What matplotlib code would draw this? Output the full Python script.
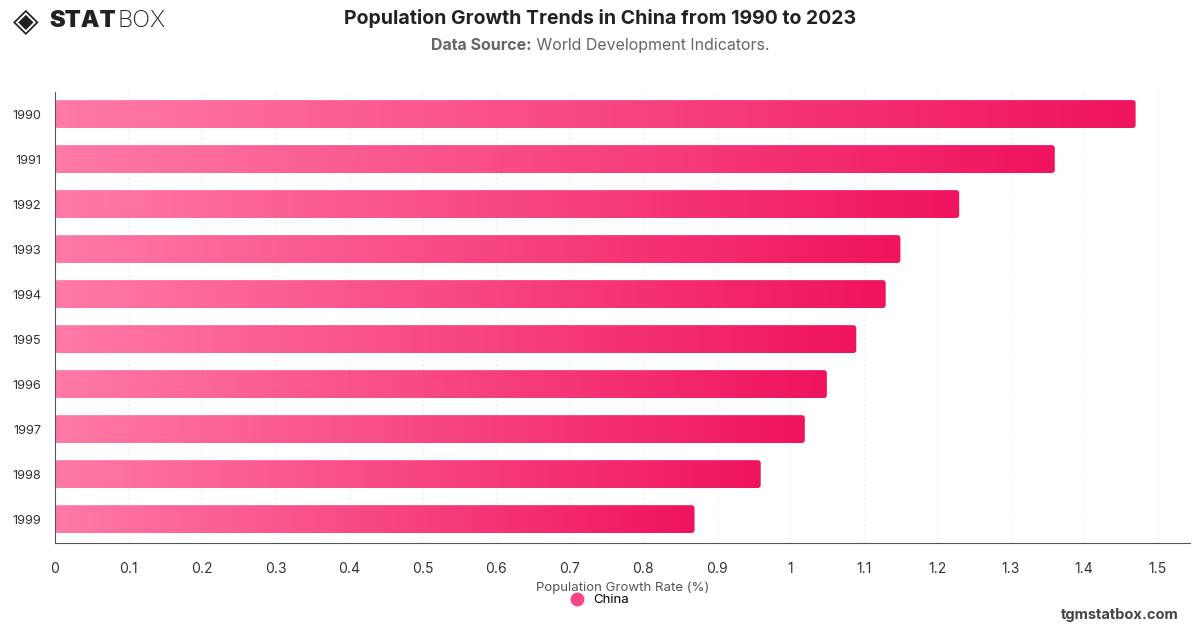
import numpy as np
import matplotlib
matplotlib.use("Agg")
import matplotlib.pyplot as plt
from matplotlib.colors import LinearSegmentedColormap
from matplotlib.patches import FancyBboxPatch
from matplotlib.lines import Line2D

# Datos
years = ["1990", "1991", "1992", "1993", "1994", "1995", "1996", "1997", "1998", "1999"]
growth = [1.47, 1.36, 1.23, 1.15, 1.13, 1.09, 1.05, 1.02, 0.96, 0.87]
x_ticks = [0, 0.1, 0.2, 0.3, 0.4, 0.5, 0.6, 0.7, 0.8, 0.9, 1.0, 1.1, 1.2, 1.3, 1.4, 1.5]
x_tick_labels = ["0", "0.1", "0.2", "0.3", "0.4", "0.5", "0.6", "0.7", "0.8", "0.9",
                 "1", "1.1", "1.2", "1.3", "1.4", "1.5"]

plt.rcParams['font.family'] = ['Inter', 'DejaVu Sans']

fig = plt.figure(figsize=(12, 6.28), dpi=100)
ax = fig.add_axes([0.0458, 0.1354, 0.9459, 0.7181])

cmap = LinearSegmentedColormap.from_list("rosa", ["#ff7aa6", "#f0135f"])
grad = np.linspace(0, 1, 256).reshape(1, -1)

bar_h = 0.62
for i, v in enumerate(growth):
    im = ax.imshow(grad, cmap=cmap, aspect='auto',
                   extent=(0, v, i + bar_h / 2, i - bar_h / 2), zorder=2)
    clip = FancyBboxPatch((0, i - bar_h / 2), v, bar_h,
                          boxstyle="round,pad=0,rounding_size=0.004",
                          mutation_aspect=16, transform=ax.transData,
                          facecolor='none', edgecolor='none')
    ax.add_patch(clip)
    im.set_clip_path(clip)

ax.set_xlim(0, 1.544)
ax.set_ylim(len(years) - 0.47, -0.49)

ax.set_yticks(range(len(years)))
ax.set_yticklabels(years)
ax.set_xticks(x_ticks)
ax.set_xticklabels(x_tick_labels)
ax.tick_params(axis='both', length=0, labelsize=10, colors='#333333')
ax.tick_params(axis='x', pad=14)
ax.tick_params(axis='y', pad=10, labelsize=9.2)

ax.grid(axis='x', linestyle=(0, (1, 3)), color='#e2e2e2', linewidth=0.8, zorder=0)
ax.set_axisbelow(True)
for s in ['top', 'right']:
    ax.spines[s].set_visible(False)
ax.spines['left'].set_color('#555555')
ax.spines['bottom'].set_color('#555555')

ax.set_xlabel("Population Growth Rate (%)", fontsize=9.5, color='#555555', labelpad=4)

# Leyenda
h = Line2D([], [], marker='o', linestyle='none', markersize=9,
           markerfacecolor='#f5468a', markeredgecolor='#f5468a')
fig.legend([h], ["China"], loc='center', bbox_to_anchor=(0.497, 0.044),
           frameon=False, fontsize=9.5, handletextpad=0.2)

# Títulos
fig.text(0.5, 0.97, "Population Growth Trends in China from 1990 to 2023",
         ha='center', va='center', fontsize=14, fontweight='bold', color='#222222')

renderer = fig.canvas.get_renderer()
fw = fig.get_figwidth() * fig.dpi
t1 = fig.text(0, 0.927, "Data Source:", ha='left', va='center', fontsize=11.5,
              fontweight='bold', color='#666666')
t2 = fig.text(0, 0.927, " World Development Indicators.", ha='left', va='center',
              fontsize=11.5, color='#666666')
w1 = t1.get_window_extent(renderer).width / fw
w2 = t2.get_window_extent(renderer).width / fw
x0 = 0.5 - (w1 + w2) / 2
t1.set_x(x0)
t2.set_x(x0 + w1)

# Logo
fig.text(0.011, 0.966, "\u25C8", ha='left', va='center', fontsize=24, color='#222222',
         family=['DejaVu Sans'])
ts = fig.text(0.041, 0.966, "STAT", ha='left', va='center', fontsize=17,
              fontweight='black', color='#222222')
ws = ts.get_window_extent(renderer).width / fw
fig.text(0.041 + ws + 0.001, 0.966, "BOX", ha='left', va='center', fontsize=17,
         fontweight='light', color='#222222')

fig.text(0.982, 0.02, "tgmstatbox.com", ha='right', va='center', fontsize=10.5,
         fontweight='bold', color='#444444')

fig.savefig("out.png", dpi=100)
